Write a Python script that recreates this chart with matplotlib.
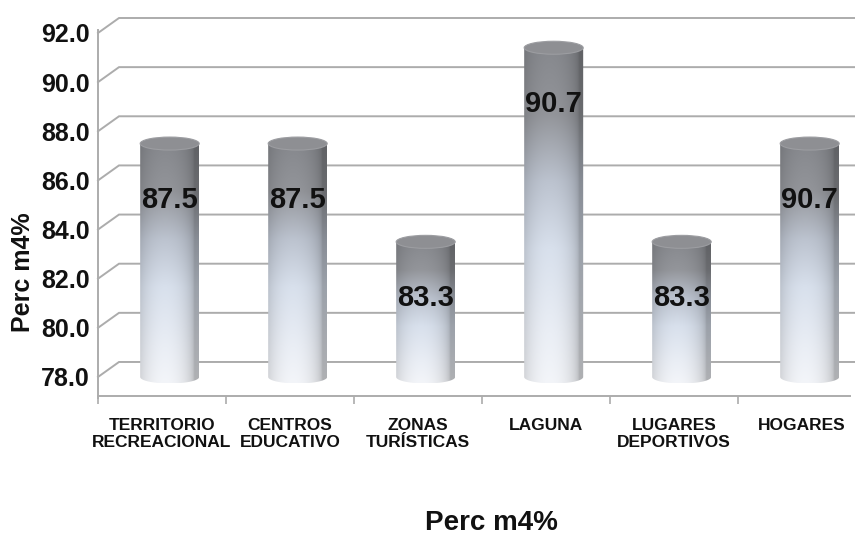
import numpy as np
import matplotlib
matplotlib.use("Agg")
import matplotlib.pyplot as plt
from matplotlib.path import Path
from matplotlib.patches import PathPatch, Ellipse

plt.rcParams['font.family'] = ['Liberation Sans', 'DejaVu Sans']

# ---- data ----
categories = ["TERRITORIO\nRECREACIONAL", "CENTROS\nEDUCATIVO", "ZONAS\nTURÍSTICAS",
              "LAGUNA", "LUGARES\nDEPORTIVOS", "HOGARES"]
bar_heights = [87.5, 87.5, 83.5, 91.4, 83.5, 87.5]
bar_labels = ["87.5", "87.5", "83.3", "90.7", "83.3", "90.7"]
y_ticks = [78.0, 80.0, 82.0, 84.0, 86.0, 88.0, 90.0, 92.0]
axis_title = "Perc m4%"

W, H = 855, 535
fig = plt.figure(figsize=(W / 100, H / 100), dpi=100)
ax_left, ax_right, ax_bottom, ax_top = 98, 855, 396, 14
ax = fig.add_axes([ax_left / W, 1 - ax_bottom / H, (ax_right - ax_left) / W, (ax_bottom - ax_top) / H])

px_per_unit_y = 24.57
px_per_unit_x = 128.0
ymin = 92 - (ax_bottom - 33) / px_per_unit_y
ymax = 92 + (33 - ax_top) / px_per_unit_y
xmin = -0.5
xmax = xmin + (ax_right - ax_left) / px_per_unit_x

for s in ax.spines.values():
    s.set_visible(False)

grid_c = '#acacac'
dx = 21 / px_per_unit_x
dy = 15 / px_per_unit_y
for v in y_ticks:
    ax.plot([xmin, xmin + dx, xmax], [v, v + dy, v + dy], color=grid_c, lw=1.4, zorder=1,
            solid_joinstyle='miter', clip_on=False)
# left wall vertical line
ax.plot([xmin, xmin], [ymin - 2 / px_per_unit_y, 92.0 + 3 / px_per_unit_y], color=grid_c, lw=1.4, zorder=1, clip_on=False)
# floor line
ax.plot([xmin, xmin + (850 - ax_left) / px_per_unit_x], [ymin, ymin], color=grid_c, lw=1.4, zorder=1, clip_on=False)

# ---- cylinders ----
stops_t = np.array([0.0, 0.2, 0.4, 0.6, 0.85, 1.0])
stops_c = np.array([[134, 136, 141], [147, 149, 154], [188, 195, 207],
                    [216, 224, 236], [234, 238, 245], [243, 245, 249]]) / 255.0
N, M = 300, 80
t = np.linspace(0, 1, N)
col = np.stack([np.interp(t, stops_t, stops_c[:, k]) for k in range(3)], axis=1)
u = np.linspace(-1, 1, M) + 0.15
shade = 0.72 + 0.28 * np.sqrt(np.clip(1 - np.clip(u, -1, 1) ** 2, 0, 1))
img = col[:, None, :] * shade[None, :, None]
img = np.clip(img, 0, 1)

base = 78.0
w = 29.5 / px_per_unit_x
ry = 6.5 / px_per_unit_y
offset = 0.06
for i, (h, lab) in enumerate(zip(bar_heights, bar_labels)):
    c = i + offset
    ang = np.linspace(np.pi, 2 * np.pi, 60)
    xs = list(c + w * np.cos(ang)) + [c + w, c - w, c - w]
    ys = list(base + ry * np.sin(ang)) + [h, h, base]
    codes = [Path.MOVETO] + [Path.LINETO] * (len(xs) - 2) + [Path.CLOSEPOLY]
    body = PathPatch(Path(np.column_stack([xs, ys]), codes), facecolor='none', edgecolor='none')
    ax.add_patch(body)
    im = ax.imshow(img, extent=(c - w, c + w, base - ry, h), origin='upper', aspect='auto',
                   zorder=3, interpolation='bilinear')
    im.set_clip_path(body)
    top = Ellipse((c, h), 2 * w, 2 * ry, facecolor='#8e8f93', edgecolor='#9c9da1', lw=0.8, zorder=4)
    ax.add_patch(top)
    ax.text(c, h - 2.3, lab, ha='center', va='center', fontsize=21, fontweight='bold',
            color='#111111', zorder=6)

ax.set_xlim(xmin, xmax)
ax.set_ylim(ymin, ymax)

ax.set_yticks(y_ticks)
ax.set_yticklabels([f"{v:.1f}" for v in y_ticks], fontsize=18, fontweight='bold', color='#111111')
ax.tick_params(axis='y', length=0, pad=6)

ax.set_xticks(range(len(categories)))
ax.set_xticklabels(categories, fontsize=12.5, fontweight='bold', color='#111111', linespacing=1.15)
ax.tick_params(axis='x', which='major', length=0, pad=16)
ax.set_xticks([xmin + k for k in range(len(categories))], minor=True)
ax.tick_params(axis='x', which='minor', length=6, color=grid_c, width=1.2)

fig.text(23 / W, 1 - 272 / H, axis_title, rotation=90, ha='center', va='center',
         fontsize=18, fontweight='bold', color='#111111')
fig.text(491 / W, 1 - 530 / H, axis_title, ha='center', va='baseline',
         fontsize=20, fontweight='bold', color='#111111')

fig.savefig("out.png", dpi=100)
